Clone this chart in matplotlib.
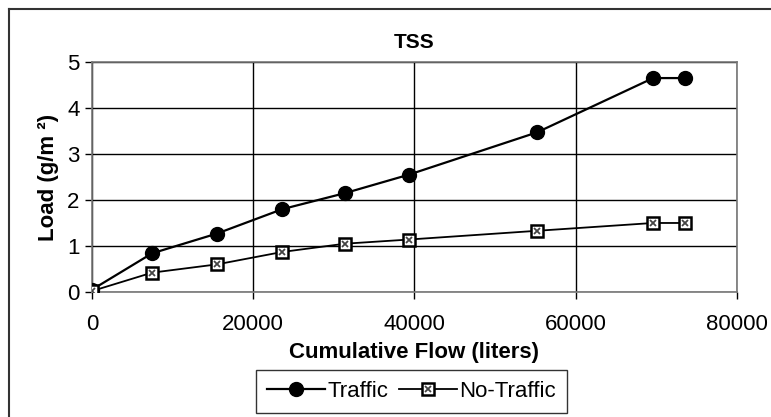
import matplotlib
matplotlib.use("Agg")
import matplotlib.pyplot as plt
from matplotlib.lines import Line2D
from matplotlib.legend_handler import HandlerTuple

plt.rcParams["font.family"] = ["Liberation Sans", "DejaVu Sans"]

# cumulative flow (liters) and TSS load (g/m2)
flow = [0, 7450, 15500, 23600, 31400, 39300, 55200, 69600, 73500]
traffic = [0.05, 0.84, 1.27, 1.80, 2.15, 2.55, 3.47, 4.65, 4.65]
no_traffic = [0.02, 0.42, 0.60, 0.87, 1.05, 1.14, 1.33, 1.50, 1.50]

x_ticks = [0, 20000, 40000, 60000, 80000]
y_ticks = [0, 1, 2, 3, 4, 5]

fig = plt.figure(figsize=(7.71, 4.17), dpi=100)
ax = fig.add_axes([0.1193, 0.2998, 0.8366, 0.5516])

ax.plot(flow, traffic, color="black", lw=1.6, marker="o", ms=10,
        mfc="black", mec="black", zorder=4)
ax.plot(flow, no_traffic, color="black", lw=1.3, marker="s", ms=9,
        mfc="white", mec="black", mew=1.8, zorder=4)
ax.plot(flow, no_traffic, ls="none", marker="x", ms=5, mec="#444444",
        mew=1.3, zorder=5)

ax.set_xlim(0, 80000)
ax.set_ylim(0, 5)
ax.set_xticks(x_ticks)
ax.set_yticks(y_ticks)
ax.grid(True, color="black", lw=1.0)
ax.set_axisbelow(True)
for s in ax.spines.values():
    s.set_color("#777777")
    s.set_linewidth(1.2)
ax.tick_params(axis="both", direction="out", length=5, width=1.0,
               color="black", labelsize=16, pad=4)
ax.tick_params(axis="x", pad=11)

ax.set_title("TSS", fontsize=15, fontweight="bold", pad=10)
ax.set_xlabel("Cumulative Flow (liters)", fontsize=16, fontweight="bold",
              labelpad=5)
ax.set_ylabel("Load (g/m \u00b2)", fontsize=16, fontweight="bold",
              labelpad=6)

h1 = Line2D([], [], color="black", lw=1.6, marker="o", ms=10, mfc="black")
h2a = Line2D([], [], color="black", lw=1.3, marker="s", ms=9, mfc="white",
             mew=1.8)
h2b = Line2D([], [], ls="none", marker="x", ms=5, mec="#444444", mew=1.3)
leg = fig.legend([h1, (h2a, h2b)], ["Traffic", "No-Traffic"],
                 handler_map={tuple: HandlerTuple(ndivide=1, pad=0)},
                 loc="center", bbox_to_anchor=(0.534, 0.062), ncol=2,
                 fontsize=16, frameon=True, fancybox=False, edgecolor="black",
                 handlelength=2.6, handletextpad=0.1, columnspacing=0.5,
                 borderpad=0.5)
leg.get_frame().set_linewidth(1.0)

# outer chart border (top and left visible in the scan)
fig.add_artist(Line2D([9 / 771, 9 / 771], [0, 1 - 9 / 417],
                      transform=fig.transFigure, color="#333333", lw=1.5))
fig.add_artist(Line2D([9 / 771, 1], [1 - 9 / 417, 1 - 9 / 417],
                      transform=fig.transFigure, color="#333333", lw=1.5))

fig.savefig("out.png", dpi=100, facecolor="white")
